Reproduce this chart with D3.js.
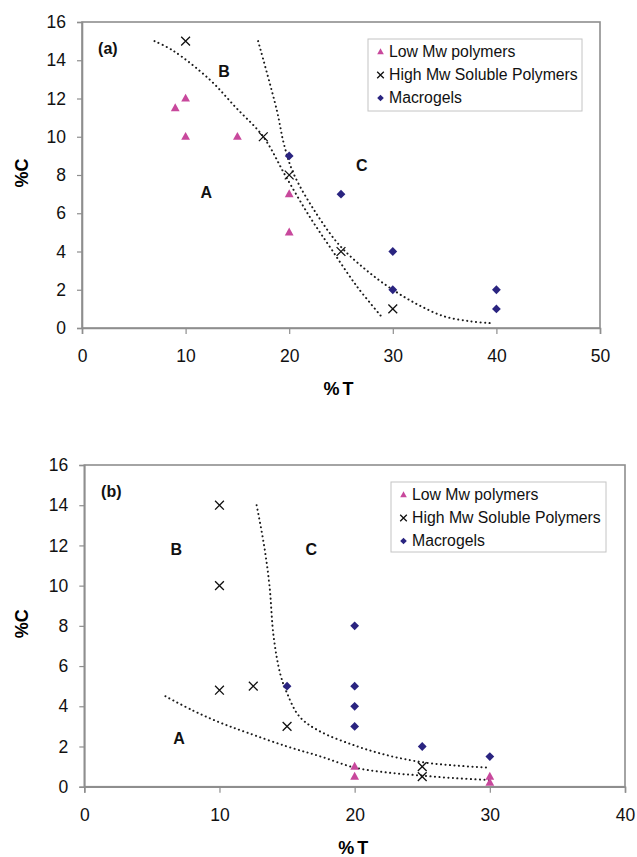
<!DOCTYPE html>
<html>
<head>
<meta charset="utf-8">
<script src="https://cdn.jsdelivr.net/npm/d3@7"></script>
<style>
  body { margin: 0; background: #fff; }
  svg { display: block; font-family: "Liberation Sans", Arial, sans-serif; }
</style>
</head>
<body>
<div id="chart"></div>
<script>
// ---- data, panel (a) ----
const lowA = [[9, 11.5], [10, 12], [10, 10], [15, 10], [20, 7], [20, 5]];
const highA = [[10, 15], [17.5, 10], [20, 8], [25, 4], [30, 1]];
const macroA = [[20, 9], [25, 7], [30, 4], [30, 2], [40, 2], [40, 1]];
// dotted boundary curves (hand drawn in the original)
const curveA1 = [[7, 15], [8.8, 14.5], [12.3, 13.0], [14.9, 11.5], [17.5, 10], [19.7, 7.9], [22, 5.8], [24.1, 4.1], [26.5, 2.2], [28.9, 0.6]];
const curveA2 = [[17, 15], [18.8, 11.4], [19.5, 9.6], [20.4, 8.1], [22.6, 6.0], [24.9, 4.3], [27.5, 3.0], [30, 2.0], [32.5, 1.2], [35, 0.6], [37.5, 0.35], [39.5, 0.25]];
const labelsA = [["(a)", 2.5, 14.6], ["B", 13.7, 13.4], ["A", 12, 7.1], ["C", 27, 8.5]];
const xTicksA = [0, 10, 20, 30, 40, 50];

// ---- data, panel (b) ----
const lowB = [[20, 1], [20, 0.5], [30, 0.5], [30, 0.2]];
const highB = [[10, 14], [10, 10], [10, 4.8], [12.5, 5], [15, 3], [25, 1], [25, 0.5]];
const macroB = [[15, 5], [20, 8], [20, 5], [20, 4], [20, 3], [25, 2], [30, 1.5]];
const curveB1 = [[6, 4.5], [8, 3.8], [10, 3.2], [12, 2.7], [15, 2.0], [17.5, 1.5], [20, 0.95], [22.5, 0.7], [25, 0.55], [27.5, 0.42], [30, 0.33]];
const curveB2 = [[12.75, 14], [13.3, 12], [13.7, 10], [14.0, 7.5], [14.5, 5.6], [15, 4.65], [15.9, 3.5], [17.3, 2.8], [20, 2.05], [22.5, 1.55], [25, 1.22], [27.5, 1.05], [30, 0.95]];
const labelsB = [["(b)", 2, 14.7], ["B", 6.8, 11.8], ["C", 16.8, 11.8], ["A", 7, 2.4]];
const xTicksB = [0, 10, 20, 30, 40];

const yTicks = [0, 2, 4, 6, 8, 10, 12, 14, 16];
const seriesNames = ["Low Mw polymers", "High Mw Soluble Polymers", "Macrogels"];

const pink = "#c8489c", navy = "#2a2480", frame = "#8e8e8e";

const svg = d3.select("#chart").append("svg")
  .attr("width", 637).attr("height", 857);

function marker(g, kind, x, y, s) {
  if (kind === 0) {
    g.append("path")
      .attr("d", `M${x},${y - s * 1.1}L${x + s},${y + s * 0.7}L${x - s},${y + s * 0.7}Z`)
      .attr("fill", pink);
  } else if (kind === 1) {
    g.append("path")
      .attr("d", `M${x - s},${y - s}L${x + s},${y + s}M${x - s},${y + s}L${x + s},${y - s}`)
      .attr("stroke", "#111").attr("stroke-width", 1.3).attr("fill", "none");
  } else {
    g.append("path")
      .attr("d", `M${x},${y - s}L${x + s},${y}L${x},${y + s}L${x - s},${y}Z`)
      .attr("fill", navy);
  }
}

function panel(p) {
  const g = svg.append("g");
  const x = d3.scaleLinear().domain([0, p.xMax]).range([p.left, p.right]);
  const y = d3.scaleLinear().domain([0, 16]).range([p.bottom, p.top]);

  // frame
  g.append("rect")
    .attr("x", p.left).attr("y", p.top)
    .attr("width", p.right - p.left).attr("height", p.bottom - p.top)
    .attr("fill", "none").attr("stroke", frame).attr("stroke-width", 1.6);

  const yAxis = g.append("g")
    .attr("transform", `translate(${p.left},0)`)
    .call(d3.axisLeft(y).tickValues(yTicks).tickSize(5).tickPadding(11));
  const xAxis = g.append("g")
    .attr("transform", `translate(0,${p.bottom})`)
    .call(d3.axisBottom(x).tickValues(p.xTicks).tickSize(6).tickPadding(16));
  [xAxis, yAxis].forEach(a => {
    a.select(".domain").attr("stroke", frame).attr("stroke-width", 1.6);
    a.selectAll(".tick line").attr("stroke", frame).attr("stroke-width", 1.2);
    a.selectAll("text").attr("fill", "#111")
      .style("font-size", "17.5px").style("font-family", "Liberation Sans, Arial, sans-serif");
  });

  // axis titles
  g.append("text")
    .attr("x", (p.left + p.right) / 2 + p.xTitleDx).attr("y", p.bottom + 67)
    .attr("text-anchor", "middle")
    .style("font-size", "18px").style("font-weight", "bold").style("letter-spacing", "3px")
    .text("%T");
  g.append("text")
    .attr("transform", `translate(22,${(p.top + p.bottom) / 2 - 2}) rotate(-90)`)
    .attr("text-anchor", "middle").attr("dominant-baseline", "central")
    .style("font-size", "18px").style("font-weight", "bold")
    .text("%C");

  // dotted curves
  const line = d3.line().x(d => x(d[0])).y(d => y(d[1])).curve(d3.curveCatmullRom);
  p.curves.forEach(c => {
    g.append("path").datum(c)
      .attr("d", line)
      .attr("fill", "none").attr("stroke", "#1a1a1a")
      .attr("stroke-width", 2).attr("stroke-linecap", "round")
      .attr("stroke-dasharray", "0.1,4.4");
  });

  // points
  const pts = g.append("g");
  p.series.forEach((s, k) => s.forEach(d => marker(pts, k, x(d[0]), y(d[1]), 4.4)));

  // region labels
  g.selectAll(".region").data(p.labels).enter().append("text")
    .attr("x", d => x(d[1])).attr("y", d => y(d[2]))
    .attr("text-anchor", "middle").attr("dominant-baseline", "central")
    .style("font-size", "16px").style("font-weight", "bold").attr("fill", "#111")
    .text(d => d[0]);

  // legend
  const lg = g.append("g");
  lg.append("rect")
    .attr("x", p.leg[0]).attr("y", p.leg[1]).attr("width", p.leg[2]).attr("height", p.leg[3])
    .attr("fill", "#fff").attr("stroke", "#c4c4c4").attr("stroke-width", 1);
  seriesNames.forEach((n, i) => {
    const ly = p.leg[1] + 12.5 + i * 23;
    marker(lg, i, p.leg[0] + 12.5, ly + 0.5, 3.3);
    lg.append("text")
      .attr("x", p.leg[0] + 21).attr("y", ly)
      .attr("dominant-baseline", "central")
      .style("font-size", "15.8px").attr("fill", "#111")
      .text(n);
  });
}

panel({
  left: 82, right: 600, top: 22, bottom: 328, xMax: 50, xTicks: xTicksA, xTitleDx: -1,
  series: [lowA, highA, macroA], curves: [curveA1, curveA2], labels: labelsA,
  leg: [368, 39, 214, 72]
});
panel({
  left: 84.3, right: 625, top: 465, bottom: 786.7, xMax: 40, xTicks: xTicksB, xTitleDx: 0,
  series: [lowB, highB, macroB], curves: [curveB1, curveB2], labels: labelsB,
  leg: [391, 482, 215, 70]
});
</script>
</body>
</html>
